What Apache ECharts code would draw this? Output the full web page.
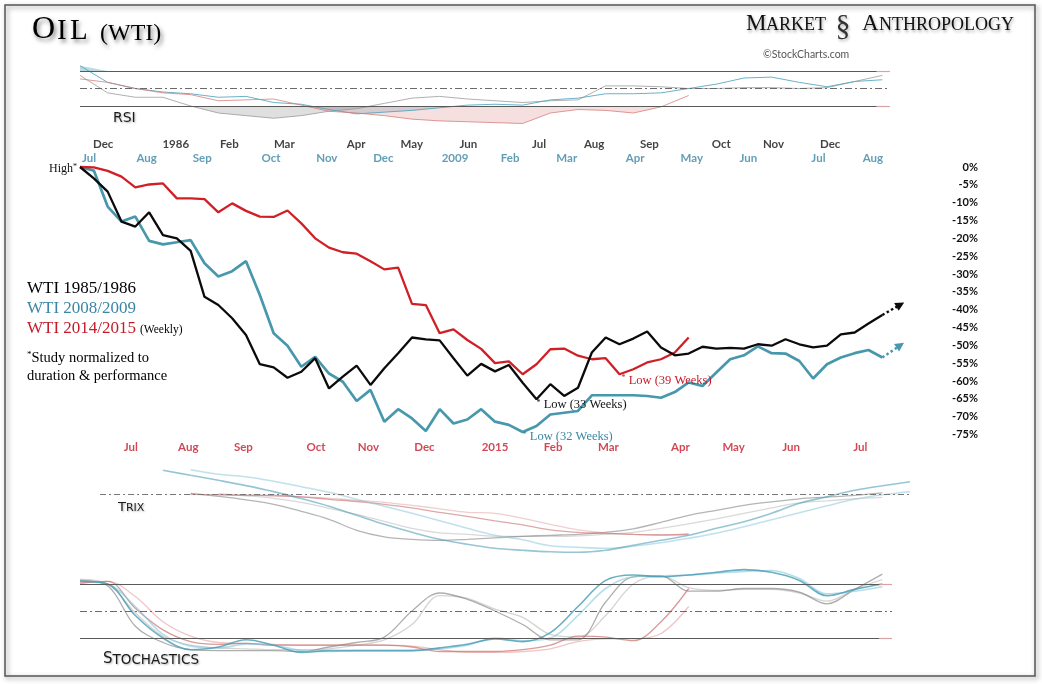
<!DOCTYPE html>
<html><head><meta charset="utf-8">
<script src="https://cdn.jsdelivr.net/npm/echarts@6/dist/echarts.min.js"></script>
<style>html,body{margin:0;padding:0;background:#fff}#c{width:1042px;height:684px}</style>
</head><body><div id="c"></div>
<script>
// ---- main series: % change from high, one value per week ----
const wti1985 = [0,-3.2,-6.9,-15.3,-16.7,-12.7,-19.1,-20.0,-23.5,-36.4,-38.7,-42.4,-47.1,-55.3,-56.2,-59.1,-57.4,-53.6,-62.1,-58.8,-55.7,-61.1,-56.4,-52.2,-47.8,-48.3,-48.6,-53.6,-58.5,-55.2,-57.3,-55.5,-60.5,-65.1,-60.9,-64.2,-61.9,-52.0,-47.8,-49.7,-48.1,-46.1,-50.6,-52.8,-52.3,-50.4,-50.9,-50.7,-50.9,-49.7,-50.1,-48.3,-49.7,-50.6,-50.1,-46.9,-46.4,-43.9,-41.5];
const wti2008 = [0,-1.0,-11.1,-15.3,-13.9,-20.7,-21.7,-21.1,-20.5,-27.0,-30.7,-29.2,-26.4,-35.9,-46.6,-50.1,-56.0,-53.2,-57.9,-60.2,-65.6,-62.5,-71.4,-67.9,-70.5,-74.0,-67.9,-71.9,-70.8,-67.9,-71.4,-72.3,-74.3,-72.6,-69.4,-68.9,-68.4,-64.0,-64.0,-64.0,-64.0,-64.2,-64.7,-63.1,-60.4,-61.4,-57.6,-53.9,-52.8,-50.3,-52.2,-52.3,-54.4,-59.3,-55.3,-53.4,-52.2,-51.3,-53.4];
const wti2014 = [0,-0.1,-1.1,-2.7,-5.7,-4.9,-4.6,-8.8,-8.8,-9.0,-12.7,-10.2,-12.3,-13.9,-14.0,-12.2,-15.8,-20.0,-22.6,-23.9,-24.3,-26.4,-28.7,-28.2,-38.4,-38.7,-46.6,-45.5,-48.5,-51.0,-55.0,-54.5,-58.1,-55.3,-51.1,-50.9,-52.9,-53.9,-53.6,-58.1,-56.7,-54.8,-53.9,-52.0,-47.8];
const arrowTip1985 = [59.3, -38.6];
const arrowTip2008 = [59.3, -50.0];
const lowWeek1985 = 33, lowWeek2008 = 32, lowWeek2014 = 39;

// ---- month tick labels (name + week position) ----
const months1985 = ['Dec','1986','Feb','Mar','Apr','May','Jun','Jul','Aug','Sep','Oct','Nov','Dec'];
const monthWeeks1985 = [1.68,6.92,10.8,14.77,19.96,23.98,28.08,33.19,37.17,41.16,46.35,50.13,54.23];
const months2008 = ['Jul','Aug','Sep','Oct','Nov','Dec','2009','Feb','Mar','Apr','May','Jun','Jul','Aug'];
const monthWeeks2008 = [0.65,4.82,8.84,13.81,17.84,21.93,27.11,31.09,35.19,40.13,44.23,48.32,53.38,57.32];
const months2014 = ['Jul','Aug','Sep','Oct','Nov','Dec','2015','Feb','Mar','Apr','May','Jun','Jul'];
const monthWeeks2014 = [3.67,7.83,11.81,17.06,20.85,24.9,30.0,34.2,38.2,43.4,47.25,51.4,56.4];

// ---- indicator panels: one value every 2 weeks ----
const rsi1985 = [65,45,40,40,30,22,19,16,19,24,27,33,39,41,38,36,34,36,37,53,53,52,50,50,51,51,50,51,58,65];
const rsi2008 = [76,57,50,46,44,40,41,34,32,26,21,23,25,28,31,32,31,37,39,44,44,45,50,55,62,63,57,52,58,60];
const rsi2014 = [61,57,50,45,43,36,37,38,31,24,22,19,15,13,12,11,10,22,26,25,22,29,42];

const trix2008a = [null,null,null,2.4,1.9,1.4,0.87,0.27,-0.43,-1.2,-2.1,-3.0,-3.8,-4.5,-5.0,-5.4,-5.6,-5.75,-5.8,-5.6,-5.1,-4.6,-4.1,-3.4,-2.75,-1.9,-0.9,-0.25,0.4,0.85,1.25];
const trix2008b = [null,null,null,null,2.45,2.0,1.75,1.3,0.76,0.2,-0.5,-1.2,-1.9,-2.65,-3.4,-4.1,-4.55,-5.15,-5.3,-5.4,-5.2,-4.85,-4.4,-3.9,-3.25,-2.55,-1.85,-1.15,-0.5,-0.05,0.26];
const trix1985a = [null,null,null,null,0.1,-0.2,-0.55,-1.0,-1.7,-2.5,-3.6,-4.25,-4.5,-4.6,-4.5,-4.35,-4.2,-4.1,-4.0,-3.8,-3.45,-2.8,-2.1,-1.6,-1.1,-0.75,-0.45,-0.28,-0.1,0.15];
const trix1985b = [null,null,null,null,null,0.05,-0.15,-0.4,-0.8,-1.4,-2.0,-2.7,-3.4,-3.85,-4.0,-4.2,-4.2,-4.2,-4.15,-4.0,-3.8,-3.4,-2.95,-2.45,-1.9,-1.35,-0.85,-0.65,-0.45,-0.3];
const trix2014a = [null,null,null,null,0,-0.05,-0.1,-0.12,-0.25,-0.5,-0.72,-1.0,-1.35,-1.8,-2.2,-2.65,-3.05,-3.55,-3.8,-3.9,-4.0,-4.07,-3.97];
const trix2014b = [null,null,null,null,null,0,-0.05,-0.15,-0.25,-0.4,-0.6,-0.8,-1.1,-1.45,-1.8,-1.9,-2.4,-3.0,-3.55,-3.85,-4.0,-4.05,-4.07];

const stoch2008a = [83,80,45,20,7,10,18,12,4,6,6,6,6,9,13,19,16,26,55,84,90,88,90,93,96,93,84,67,74,80];
const stoch2008b = [83,80,55,24,11,9,13,12,6,5,6,6,6,8,12,20,17,20,45,75,88,89,90,92,94,95,86,69,72,77];
const stoch1985a = [84,78,33,15,7,6,6,6,5,10,15,21,50,70,63,50,35,18,18,60,88,89,72,72,75,75,71,58,74,91];
const stoch1985b = [85,80,48,22,12,9,8,7,7,8,12,18,35,67,64,52,43,24,21,45,80,89,76,73,74,74,70,61,74,85];
const stoch2014a = [81,83,53,29,16,13,14,12,12,12,12,12,10,5,5,5,7,12,22,21,17,38,75];
const stoch2014b = [81,83,66,38,22,15,14,13,12,12,12,12,11,7,4,4,5,8,16,19,19,25,55];

// ---- styling ----
const SERIF = '"Liberation Serif","Times New Roman",serif';
const SANS = 'Lato,"Open Sans",sans-serif';
const DSANS = '"DejaVu Sans",sans-serif';
const BLACK = '#0b0b0b', TEAL = '#4797ad', RED = '#d11f26';
const TEAL_T = '#3a86a3', RED_T = '#c41a2a';

const wk = a => a.map((v, i) => [i, v]);
const bi = a => a.map((v, i) => [i * 2, v]);

function monthRow(names, weeks, rowY, color) {
  return {
    type: 'scatter', xAxisIndex: 0, yAxisIndex: 0, symbolSize: 0, silent: true, z: 5,
    itemStyle: {color: 'transparent'},
    data: weeks.map((w, i) => ({value: [w, rowY], name: names[i]})),
    label: {show: true, position: 'inside', formatter: '{b}', color: color,
            fontFamily: SANS, fontWeight: 'bold', fontSize: 11.5}
  };
}
function lowLabel(coord, text, color, offset) {
  return {
    coord: coord, symbolSize: 0,
    label: {show: true, position: 'right', distance: 0, offset: offset,
      formatter: '{s|*} ' + text, color: color, fontFamily: SERIF, fontSize: 12.5,
      rich: {s: {fontSize: 8, verticalAlign: 'top', color: color, fontFamily: SERIF}}}
  };
}
function arrowLine(from, to, color) {
  return {
    silent: true, symbol: ['none', 'triangle'], symbolSize: 9,
    label: {show: false},
    lineStyle: {type: 'dotted', width: 2.5, color: color},
    itemStyle: {color: color},
    data: [[{coord: from}, {coord: to}]]
  };
}
// RSI shading: areas between the RSI line and the 30 (below) / 70 (above) levels,
// drawn on helper grids whose edges sit exactly on those levels
function fillBelow30(arr, color) {
  return {type: 'line', xAxisIndex: 4, yAxisIndex: 4, silent: true, symbol: 'none',
    lineStyle: {opacity: 0}, areaStyle: {color: color, opacity: 1, origin: 'end'},
    data: bi(arr.map(v => Math.min(v, 30)))};
}
function fillAbove70(arr, color) {
  return {type: 'line', xAxisIndex: 5, yAxisIndex: 5, silent: true, symbol: 'none',
    lineStyle: {opacity: 0}, areaStyle: {color: color, opacity: 1, origin: 'start'},
    data: bi(arr.map(v => Math.max(v, 70)))};
}
function panelLine(axis, arr, color, width, extra) {
  return Object.assign({type: 'line', xAxisIndex: axis, yAxisIndex: axis, silent: true, symbol: 'none',
    smooth: axis === 1 ? false : 0.35, connectNulls: false,
    lineStyle: {color: color, width: width}, data: bi(arr)}, extra || {});
}
function lvl(x0, x1, y, style) {
  return [{coord: [x0, y], lineStyle: style}, {coord: [x1, y]}];
}
const SOLID = {color: '#5a5a5a', width: 1.2, type: 'solid'};
const TAIL = {color: '#d9a3a3', width: 1.2, type: 'solid'};
const DASHDOT = {color: '#6a6a6a', width: 1, type: [7, 3, 2, 3]};

const RSI_PX = 0.875, RSI_TOP = 62.25;
const chart = echarts.init(document.getElementById('c'));
const option = {
  animation: false,
  backgroundColor: '#fff',
  grid: [
    {left: 80, top: 138.47, width: 830, height: 313.87},
    {left: 80, top: RSI_TOP, width: 830, height: 80 * RSI_PX},
    {left: 80, top: 464.3, width: 830, height: 100},
    {left: 80, top: 566, width: 830, height: 90},
    {left: 80, top: RSI_TOP + 50 * RSI_PX, width: 830, height: 30 * RSI_PX},
    {left: 80, top: RSI_TOP, width: 830, height: 10 * RSI_PX}
  ],
  xAxis: [0, 1, 2, 3, 4, 5].map(i => ({type: 'value', gridIndex: i, min: 0, max: 60, show: false})),
  yAxis: [
    {type: 'value', gridIndex: 0, min: -80, max: 8, interval: 5, position: 'right',
     axisLine: {show: false}, axisTick: {show: false}, splitLine: {show: false},
     axisLabel: {margin: 68, align: 'right', fontFamily: SANS, fontWeight: 'bold', fontSize: 11, color: '#111',
       formatter: v => (v > 0 || v < -75) ? '' : v + '%'}},
    {type: 'value', gridIndex: 1, min: 0, max: 80, show: false},
    {type: 'value', gridIndex: 2, min: -7, max: 3, show: false},
    {type: 'value', gridIndex: 3, min: 0, max: 100, show: false},
    {type: 'value', gridIndex: 4, min: 0, max: 30, show: false},
    {type: 'value', gridIndex: 5, min: 70, max: 80, show: false}
  ],
  series: [
    // RSI panel
    fillBelow30(rsi1985, 'rgba(150,150,150,0.30)'),
    fillBelow30(rsi2008, 'rgba(90,160,180,0.26)'),
    fillBelow30(rsi2014, 'rgba(215,130,130,0.26)'),
    fillAbove70(rsi2008, 'rgba(90,160,180,0.40)'),
    panelLine(1, rsi1985, 'rgba(150,150,150,0.75)', 1, {markLine: {silent: true, symbol: 'none', label: {show: false},
      data: [lvl(0, 57.6, 70, SOLID), lvl(0, 57.6, 30, SOLID), lvl(57.6, 58.55, 70, TAIL), lvl(57.6, 58.55, 30, TAIL), lvl(0, 58.55, 50, DASHDOT)]}}),
    panelLine(1, rsi2008, 'rgba(80,165,190,0.85)', 1),
    panelLine(1, rsi2014, 'rgba(215,120,120,0.75)', 1),
    // TRIX panel
    panelLine(2, trix1985b, 'rgba(170,170,170,0.45)', 1.3, {markLine: {silent: true, symbol: 'none', label: {show: false},
      data: [lvl(1.45, 60, 0, {color: '#777', width: 1, type: [6, 3, 2, 3]})]}}),
    panelLine(2, trix1985a, 'rgba(120,120,120,0.55)', 1.3),
    panelLine(2, trix2014b, 'rgba(225,160,160,0.5)', 1.3),
    panelLine(2, trix2014a, 'rgba(200,110,110,0.6)', 1.3),
    panelLine(2, trix2008b, 'rgba(140,200,220,0.55)', 1.6),
    panelLine(2, trix2008a, 'rgba(80,160,185,0.6)', 1.6),
    // Stochastics panel
    panelLine(3, stoch1985b, 'rgba(170,170,170,0.5)', 1.3, {markLine: {silent: true, symbol: 'none', label: {show: false},
      data: [lvl(0, 57.8, 80, SOLID), lvl(0, 57.8, 20, SOLID), lvl(57.8, 58.7, 80, TAIL), lvl(57.8, 58.7, 20, TAIL), lvl(0, 58.7, 50, DASHDOT)]}}),
    panelLine(3, stoch1985a, 'rgba(120,120,120,0.6)', 1.3),
    panelLine(3, stoch2014b, 'rgba(225,150,150,0.55)', 1.3),
    panelLine(3, stoch2014a, 'rgba(200,100,100,0.65)', 1.3),
    panelLine(3, stoch2008b, 'rgba(130,200,220,0.6)', 1.6),
    panelLine(3, stoch2008a, 'rgba(70,155,180,0.8)', 1.6),
    // month label rows
    monthRow(months1985, monthWeeks1985, 6.3, '#111'),
    monthRow(months2008, monthWeeks2008, 2.5, TEAL_T),
    monthRow(months2014, monthWeeks2014, -78.5, RED_T),
    // main lines
    {type: 'line', name: 'WTI 2008/2009', xAxisIndex: 0, yAxisIndex: 0, data: wk(wti2008), symbol: 'none', z: 3,
     lineStyle: {color: TEAL, width: 2.7}, itemStyle: {color: TEAL},
     markLine: arrowLine([58, wti2008[58]], arrowTip2008, TEAL),
     markPoint: {silent: true, symbol: 'circle', itemStyle: {color: 'transparent'},
       data: [lowLabel([lowWeek2008, wti2008[lowWeek2008]], 'Low (32 Weeks)', TEAL_T, [0, 5])]}},
    {type: 'line', name: 'WTI 2014/2015', xAxisIndex: 0, yAxisIndex: 0, data: wk(wti2014), symbol: 'none', z: 4,
     lineStyle: {color: RED, width: 2.3}, itemStyle: {color: RED},
     markPoint: {silent: true, symbol: 'circle', itemStyle: {color: 'transparent'},
       data: [lowLabel([lowWeek2014, wti2014[lowWeek2014]], 'Low (39 Weeks)', RED_T, [2, 6])]}},
    {type: 'line', name: 'WTI 1985/1986', xAxisIndex: 0, yAxisIndex: 0, data: wk(wti1985), symbol: 'none', z: 5,
     lineStyle: {color: BLACK, width: 2.3}, itemStyle: {color: BLACK},
     markLine: arrowLine([58, wti1985[58]], arrowTip1985, BLACK),
     markPoint: {silent: true, symbol: 'circle', itemStyle: {color: 'transparent'},
       data: [
         lowLabel([lowWeek1985, wti1985[lowWeek1985]], 'Low (33 Weeks)', '#111', [0, 6]),
         {coord: [0, wti1985[0]], symbolSize: 0,
          label: {show: true, position: 'left', distance: 3, offset: [0, 2], formatter: 'High{s|*}',
            color: '#111', fontFamily: SERIF, fontSize: 12, rich: {s: {fontSize: 8, verticalAlign: 'top', fontFamily: SERIF, color: '#111'}}}}
       ]}}
  ],
  graphic: [
    {type: 'rect', silent: true, z: 100, shape: {x: 5, y: 5, width: 1030, height: 671},
     style: {fill: 'none', stroke: '#555', lineWidth: 1.5, shadowBlur: 5, shadowColor: 'rgba(0,0,0,0.45)', shadowOffsetX: 2, shadowOffsetY: 2}},
    // title
    {type: 'text', x: 32, y: 30, style: {text: 'O', font: '32px ' + SERIF, fill: '#000', verticalAlign: 'middle', textVerticalAlign: 'middle',
      textShadowColor: 'rgba(0,0,0,0.5)', textShadowBlur: 4, textShadowOffsetX: 2, textShadowOffsetY: 3}},
    {type: 'text', x: 57, y: 31, style: {text: 'I', font: '29px ' + SERIF, fill: '#000', verticalAlign: 'middle', textVerticalAlign: 'middle',
      textShadowColor: 'rgba(0,0,0,0.5)', textShadowBlur: 4, textShadowOffsetX: 2, textShadowOffsetY: 3}},
    {type: 'text', x: 70, y: 31, style: {text: 'L', font: '29px ' + SERIF, fill: '#000', verticalAlign: 'middle', textVerticalAlign: 'middle',
      textShadowColor: 'rgba(0,0,0,0.5)', textShadowBlur: 4, textShadowOffsetX: 2, textShadowOffsetY: 3}},
    {type: 'text', x: 100, y: 34, style: {text: '(WTI)', font: '24px ' + SERIF, fill: '#000', verticalAlign: 'middle', textVerticalAlign: 'middle',
      textShadowColor: 'rgba(0,0,0,0.5)', textShadowBlur: 4, textShadowOffsetX: 2, textShadowOffsetY: 3}},
    // logo
    {type: 'text', x: 746, y: 23.5, style: {text: 'M', font: '23px ' + SERIF, fill: '#111', verticalAlign: 'middle', textVerticalAlign: 'middle',
      textShadowColor: 'rgba(0,0,0,0.35)', textShadowBlur: 3, textShadowOffsetX: 1, textShadowOffsetY: 2}},
    {type: 'text', x: 766, y: 25.5, style: {text: 'ARKET', font: '18px ' + SERIF, fill: '#111', verticalAlign: 'middle', textVerticalAlign: 'middle',
      textShadowColor: 'rgba(0,0,0,0.35)', textShadowBlur: 3, textShadowOffsetX: 1, textShadowOffsetY: 2}},
    {type: 'text', x: 843, y: 27, style: {text: '§', font: '30px ' + SERIF, fill: '#333', align: 'center', textAlign: 'center', verticalAlign: 'middle', textVerticalAlign: 'middle',
      textShadowColor: 'rgba(0,0,0,0.3)', textShadowBlur: 3, textShadowOffsetX: 1, textShadowOffsetY: 2}},
    {type: 'text', x: 862, y: 23.5, style: {text: 'A', font: '23px ' + SERIF, fill: '#111', verticalAlign: 'middle', textVerticalAlign: 'middle',
      textShadowColor: 'rgba(0,0,0,0.35)', textShadowBlur: 3, textShadowOffsetX: 1, textShadowOffsetY: 2}},
    {type: 'text', x: 879, y: 25.5, style: {text: 'NTHROPOLOGY', font: '18px ' + SERIF, fill: '#111', verticalAlign: 'middle', textVerticalAlign: 'middle',
      textShadowColor: 'rgba(0,0,0,0.35)', textShadowBlur: 3, textShadowOffsetX: 1, textShadowOffsetY: 2}},
    {type: 'text', x: 763, y: 54.5, style: {text: '©StockCharts.com', font: '10.5px ' + SANS, fill: '#555', verticalAlign: 'middle', textVerticalAlign: 'middle'}},
    // legend block
    {type: 'text', x: 27, y: 289, style: {text: 'WTI 1985/1986', font: '17px ' + SERIF, fill: '#000', verticalAlign: 'middle', textVerticalAlign: 'middle'}},
    {type: 'text', x: 27, y: 308.5, style: {text: 'WTI 2008/2009', font: '17px ' + SERIF, fill: TEAL_T, verticalAlign: 'middle', textVerticalAlign: 'middle'}},
    {type: 'text', x: 27, y: 329, style: {text: 'WTI 2014/2015', font: '17px ' + SERIF, fill: RED_T, verticalAlign: 'middle', textVerticalAlign: 'middle'}},
    {type: 'text', x: 140, y: 330, style: {text: '(Weekly)', font: '11.5px ' + SERIF, fill: '#000', verticalAlign: 'middle', textVerticalAlign: 'middle'}},
    {type: 'text', x: 27, y: 358, style: {text: '{s|*}Study normalized to', font: '14.5px ' + SERIF, fill: '#000', verticalAlign: 'middle', textVerticalAlign: 'middle',
      rich: {s: {fontSize: 9, verticalAlign: 'top', fontFamily: SERIF}}}},
    {type: 'text', x: 27, y: 376, style: {text: 'duration & performance', font: '14.5px ' + SERIF, fill: '#000', verticalAlign: 'middle', textVerticalAlign: 'middle'}},
    // panel labels
    {type: 'text', x: 113, y: 118, style: {text: 'RSI', font: '14px ' + DSANS, fill: '#1a1a1a', verticalAlign: 'middle', textVerticalAlign: 'middle',
      textShadowColor: 'rgba(0,0,0,0.3)', textShadowBlur: 2, textShadowOffsetX: 1, textShadowOffsetY: 1}},
    {type: 'text', x: 118, y: 507.5, style: {text: '{a|T}{b|RIX}', fill: '#1a1a1a', verticalAlign: 'middle', textVerticalAlign: 'middle',
      textShadowColor: 'rgba(0,0,0,0.3)', textShadowBlur: 2, textShadowOffsetX: 1, textShadowOffsetY: 1,
      rich: {a: {fontSize: 13, fontFamily: DSANS, verticalAlign: 'bottom'}, b: {fontSize: 11, fontFamily: DSANS, verticalAlign: 'bottom'}}}},
    {type: 'text', x: 103, y: 659.5, style: {text: '{a|S}{b|TOCHASTICS}', fill: '#1a1a1a', verticalAlign: 'middle', textVerticalAlign: 'middle',
      textShadowColor: 'rgba(0,0,0,0.3)', textShadowBlur: 2, textShadowOffsetX: 1, textShadowOffsetY: 1,
      rich: {a: {fontSize: 15, fontFamily: DSANS, verticalAlign: 'bottom'}, b: {fontSize: 13.5, fontFamily: DSANS, verticalAlign: 'bottom'}}}}
  ]
};
chart.setOption(option);
</script>
</body></html>
